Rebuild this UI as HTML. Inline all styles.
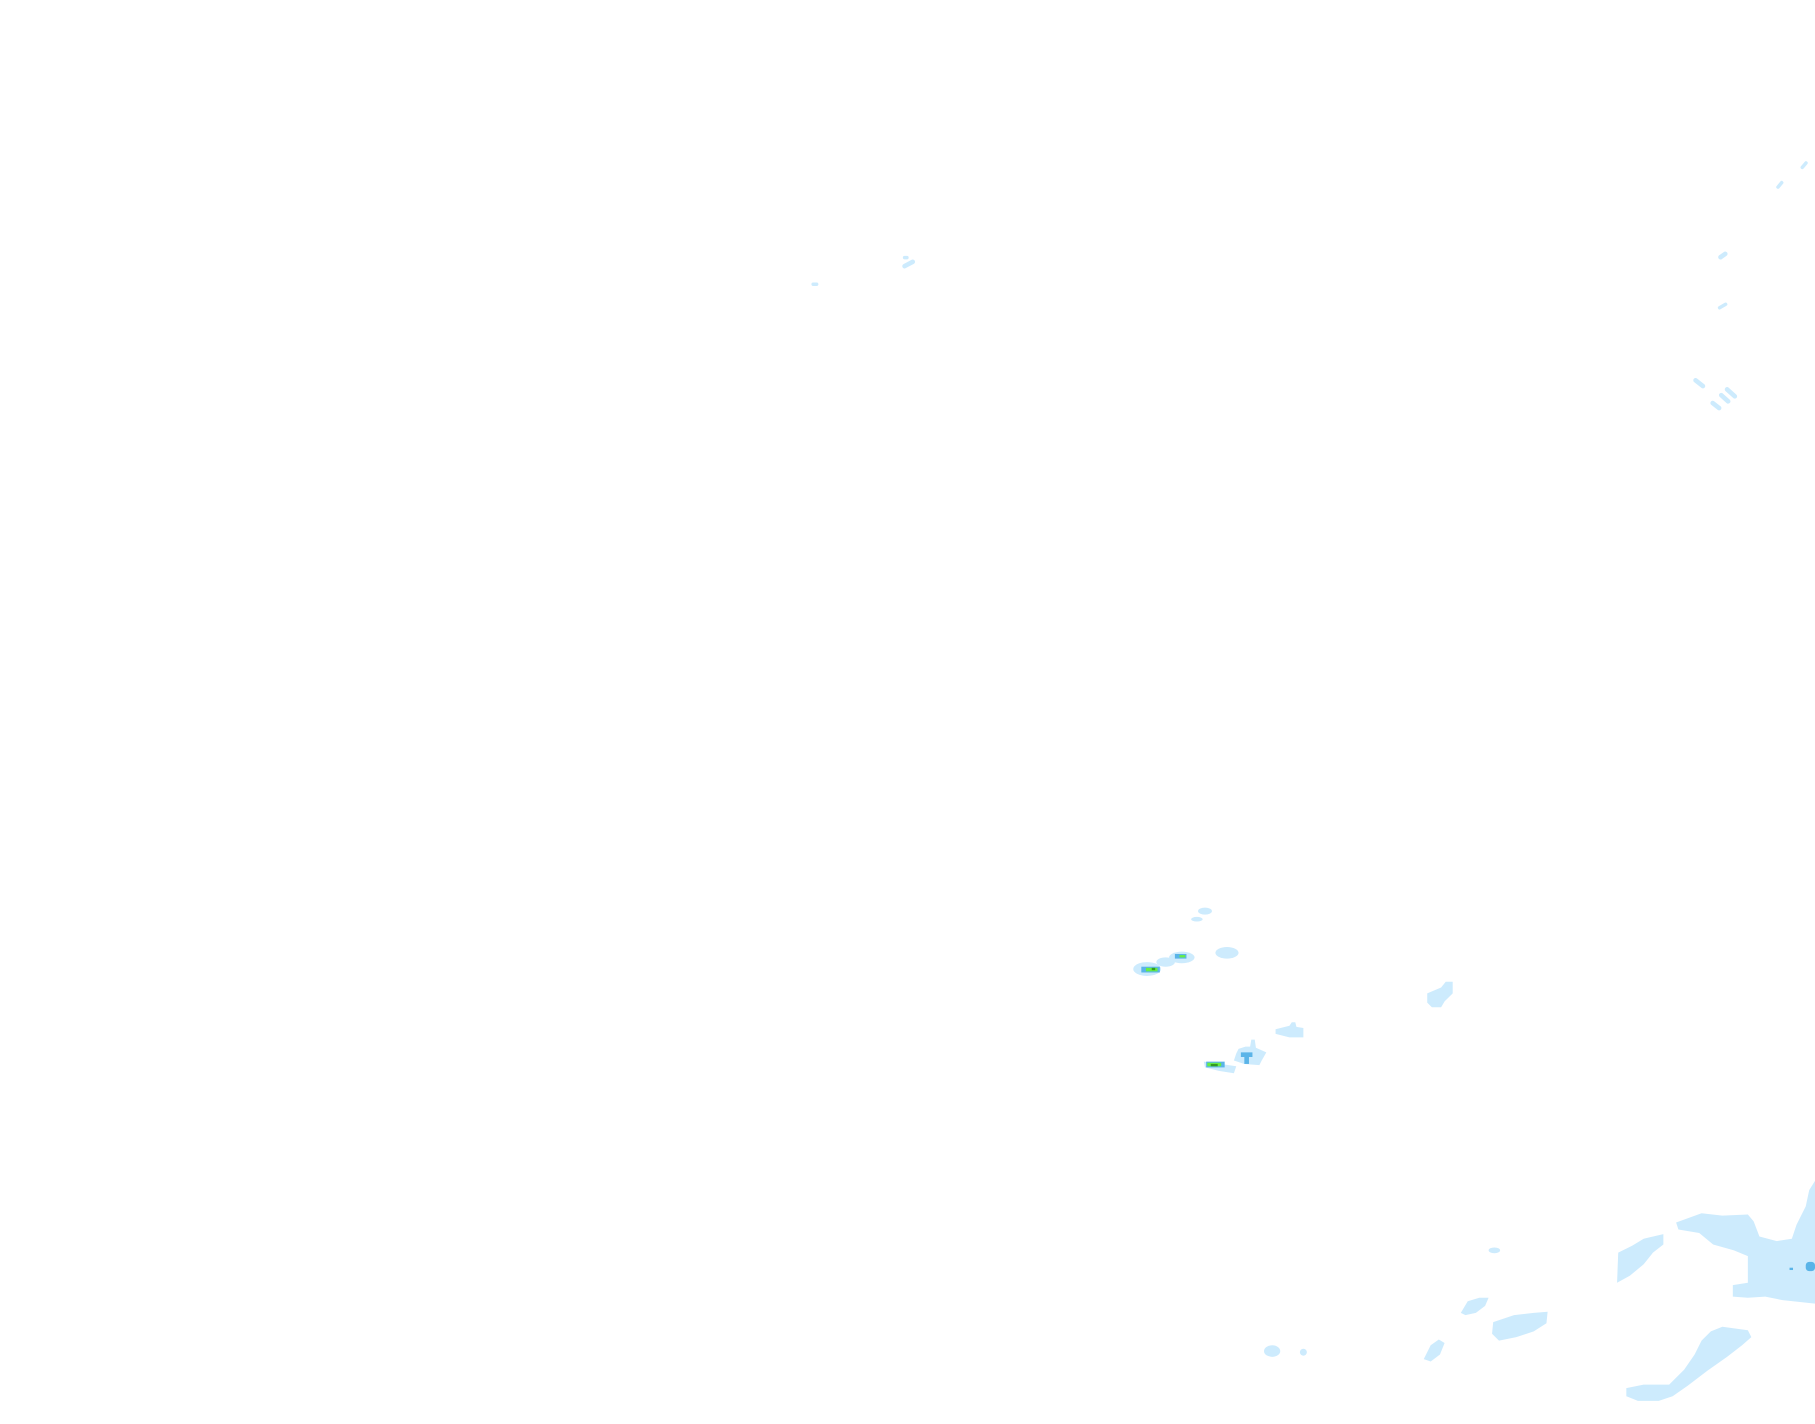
<!DOCTYPE html>
<html><head><meta charset="utf-8"><style>html,body{margin:0;padding:0;background:#fff;width:1815px;height:1424px;overflow:hidden}svg{display:block}</style></head>
<body>
<svg width="1815" height="1424" viewBox="0 0 1568 1230" preserveAspectRatio="none" xmlns="http://www.w3.org/2000/svg">
<g fill="#cdebfd">
<!-- top right dashes -->
<rect x="1555" y="141" width="8" height="3" rx="1.5" transform="rotate(-50 1559 143)"/>
<rect x="1534" y="158" width="8" height="3" rx="1.5" transform="rotate(-50 1538 160)"/>
<rect x="1484" y="219" width="9" height="4" rx="2" transform="rotate(-35 1488 221)"/>
<rect x="1484" y="263" width="9" height="3" rx="1.5" transform="rotate(-30 1488 265)"/>
<rect x="1462" y="329" width="12" height="4" rx="2" transform="rotate(38 1468 331)"/>
<rect x="1489" y="337" width="13" height="4" rx="2" transform="rotate(42 1495 339)"/>
<rect x="1484" y="342" width="12" height="4" rx="2" transform="rotate(42 1490 344)"/>
<rect x="1477" y="348" width="11" height="4" rx="2" transform="rotate(38 1482 350)"/>
<rect x="779" y="226" width="12" height="4" rx="2" transform="rotate(-28 785 228)"/>
<rect x="780" y="221" width="5" height="3" rx="1.5"/>
<rect x="701" y="244" width="6" height="3" rx="1.5"/>
<!-- galapagos -->
<ellipse cx="1041" cy="787" rx="6" ry="3"/>
<ellipse cx="1034" cy="794" rx="5" ry="2"/>
<ellipse cx="991" cy="837" rx="12" ry="6"/>
<ellipse cx="1007" cy="831" rx="8" ry="4"/>
<ellipse cx="1021" cy="827" rx="11" ry="5"/>
<ellipse cx="1060" cy="823" rx="10" ry="5"/>
<polygon points="1233,858 1245,853 1249,848 1255,848 1255,858 1248,865 1245,870 1237,870 1233,866"/>
<polygon points="1102,889 1114,886 1116,883 1119,883 1120,887 1126,888 1126,896 1114,896 1102,893"/>
<polygon points="1070,906 1076,904 1080,904 1081,898 1084,898 1085,905 1094,909 1090,916 1088,920 1075,919 1066,916 1068,910"/>
<polygon points="1040,917 1055,919 1068,921 1066,927 1053,925 1041,922"/>
<!-- bottom -->
<polygon points="1448,1056 1470,1048 1488,1050 1510,1049 1515,1055 1520,1068 1535,1072 1548,1070 1552,1058 1560,1042 1563,1028 1568,1020 1568,1126 1540,1123 1525,1120 1510,1121 1497,1120 1497,1110 1510,1108 1510,1085 1498,1080 1480,1075 1468,1065 1450,1062"/>
<polygon points="1398,1082 1410,1076 1420,1070 1437,1066 1437,1075 1428,1082 1420,1092 1408,1102 1397,1108"/>
<ellipse cx="1291" cy="1080" rx="5" ry="2.5"/>
<polygon points="1262,1134 1268,1124 1278,1121 1286,1121 1283,1128 1275,1134 1266,1136"/>
<polygon points="1290,1142 1308,1136 1325,1134 1337,1133 1336,1143 1325,1150 1310,1155 1295,1158 1289,1152"/>
<polygon points="1232,1170 1236,1162 1243,1157 1248,1160 1244,1170 1236,1176 1230,1174"/>
<ellipse cx="1099" cy="1167" rx="7" ry="5"/>
<ellipse cx="1126" cy="1168" rx="3" ry="3"/>
<polygon points="1488,1146 1510,1149 1513,1155 1505,1162 1492,1172 1475,1184 1458,1197 1445,1206 1433,1210 1415,1210 1405,1206 1405,1199 1420,1196 1442,1196 1455,1183 1464,1170 1470,1158 1478,1150"/>
</g>
<g fill="#5ab4e8">
<rect x="1560" y="1090" width="8" height="8" rx="3"/>
<rect x="1546" y="1095" width="3" height="2"/>
<rect x="1072" y="909" width="10" height="4"/>
<rect x="1075" y="912" width="4" height="7"/>
<rect x="986" y="835" width="16" height="5"/>
<rect x="1015" y="824" width="10" height="4"/>
<rect x="1042" y="917" width="16" height="5"/>
</g>
<g fill="#66ee44">
<rect x="990" y="836" width="10" height="3"/>
<rect x="1019" y="825" width="5" height="2"/>
<rect x="1043" y="918" width="12" height="3"/>
</g>
<g fill="#339922">
<rect x="995" y="836" width="3" height="2"/>
<rect x="1046" y="919" width="6" height="2"/>
</g>
</svg>
</body></html>
